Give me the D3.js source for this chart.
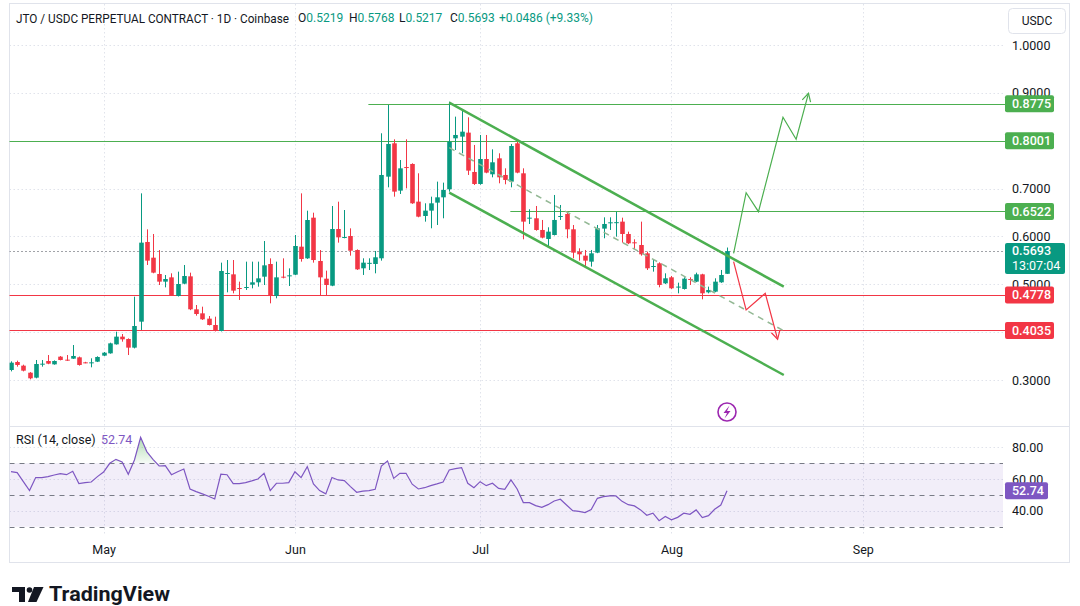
<!DOCTYPE html>
<html>
<head>
<meta charset="utf-8">
<script src="https://cdn.jsdelivr.net/npm/d3@7"></script>
<style>
  body { margin: 0; background: #fff; }
  svg { display: block; font-family: Roboto, "Noto Sans", sans-serif; }
</style>
</head>
<body>
<svg id="chart" width="1080" height="606"></svg>
<script>
// daily candles, 16 Apr -> 10 Aug
const firstDay = [2025, 3, 16];

const opens = [
  .3209, .3376, .3300, .3153, .3049, .3334, .3397, .3327, .3488, .3425,
  .3446, .3474, .3369, .3362, .3383, .3509, .3557, .3745, .3906, .3857,
  .3676, .4219, .5884, .5556, .5215, .5055, .5145, .4755, .5013, .5166,
  .4477, .4393, .4282, .4149, .4024, .5229, .5208, .4922, .4929, .4992,
  .5041, .5159, .5424, .4755, .5159, .5180, .5201, .5786, .5542, .6392,
  .5487, .5117, .4971, .6155, .5975, .6009, .5716, .5334, .5440, .5424,
  .5543, .7249, .7946, .6957, .7450, .7514, .6727, .6427, .6539, .6706,
  .6817, .6985, .8050, .8085, .8169, .7347, .7096, .7618, .7298, .7632,
  .7284, .7145, .7946, .7319, .6385, .6379, .6135, .5947, .6030, .6420,
  .6469, .6149, .5682, .5598, .5473, .5661, .6163, .6288, .6290, .6309,
  .6051, .5877, .5821, .5647, .5375, .5438, .5020, .5146, .4945, .4902,
  .5111, .5055, .5208, .4832, .4846, .5041, .5219
];
const highs = [
  .3390, .3404, .3320, .3165, .3418, .3418, .3522, .3410, .3500, .3522,
  .3731, .3490, .3380, .3453, .3495, .3585, .3780, .4010, .3961, .3870,
  .4741, .6900, .6148, .6051, .5716, .5194, .5229, .5264, .5403, .5243,
  .4567, .4532, .4337, .4323, .5452, .5507, .5507, .5055, .5473, .5473,
  .5473, .5904, .5542, .5473, .5542, .5333, .6030, .6900, .6538, .6496,
  .5716, .5285, .6636, .6726, .6552, .6169, .5730, .5543, .5543, .5696,
  .8155, .8747, .8029, .7597, .8029, .7528, .7319, .6692, .6831, .7145,
  .7124, .8816, .8503, .8642, .8489, .7911, .8120, .8120, .7820, .7737,
  .7423, .7932, .8015, .7423, .6567, .6636, .6344, .6191, .6866, .6657,
  .6518, .6239, .5752, .5717, .5717, .6239, .6399, .6399, .6518, .6392,
  .6100, .5940, .6309, .5682, .5522, .5459, .5229, .5174, .5034, .5146,
  .5146, .5243, .5220, .4951, .5125, .5299, .5768
];
const lows = [
  .3180, .3279, .3180, .3014, .3035, .3279, .3330, .3320, .3410, .3400,
  .3440, .3300, .3350, .3265, .3375, .3500, .3550, .3740, .3801, .3522,
  .3660, .4045, .5403, .5230, .4985, .4936, .4760, .4745, .5000, .4460,
  .4344, .4255, .4140, .4015, .4015, .4832, .4811, .4672, .4881, .4915,
  .4950, .4985, .4602, .4707, .5124, .4964, .5190, .5473, .5530, .5452,
  .4755, .4755, .4960, .5870, .5960, .5598, .5300, .5195, .5298, .5229,
  .5494, .7026, .6831, .6887, .7005, .6680, .6400, .6309, .6170, .6239,
  .6379, .6936, .7806, .7737, .7284, .7075, .7080, .7320, .7235, .7110,
  .7089, .7026, .7320, .5940, .6260, .6120, .5960, .5800, .6020, .6344,
  .5961, .5543, .5494, .5383, .5369, .5650, .5961, .6135, .5995, .5870,
  .5840, .5731, .5598, .5299, .5264, .4937, .5006, .4900, .4811, .4890,
  .4986, .5045, .4686, .4811, .4835, .5030, .5217
];
const closes = [
  .3362, .3314, .3195, .3035, .3334, .3341, .3341, .3397, .3418, .3411,
  .3502, .3314, .3362, .3369, .3481, .3571, .3766, .3906, .3850, .3676,
  .4128, .5870, .5494, .5243, .5055, .5110, .4776, .5006, .5173, .4477,
  .4379, .4268, .4149, .4024, .5278, .5236, .4867, .4905, .4943, .5041,
  .5124, .5396, .4755, .5145, .5145, .5187, .5800, .5528, .6343, .5507,
  .5145, .4985, .6155, .5981, .5988, .5702, .5312, .5452, .5448, .5564,
  .7284, .7932, .6936, .7423, .7437, .6692, .6413, .6539, .6692, .6817,
  .6971, .7980, .8120, .8189, .7375, .7096, .7618, .7333, .7549, .7235,
  .7180, .7890, .7333, .6309, .6392, .6135, .5975, .6100, .6344, .6427,
  .6149, .5661, .5626, .5494, .5647, .6170, .6260, .6295, .6298, .6051,
  .5856, .5863, .5626, .5334, .5382, .4986, .5125, .4916, .4952, .5118,
  .5100, .5208, .4811, .4881, .5055, .5194, .5693
];
const rsi = [
  64.7, 64.1, 58.4, 52.8, 61.0, 61.0, 61.6, 62.6, 63.5, 62.8,
  65.0, 57.2, 57.8, 58.2, 61.6, 64.5, 70.0, 72.5, 70.8, 63.1,
  72.1, 86.4, 77.4, 72.5, 68.3, 68.5, 62.8, 64.7, 66.4, 53.8,
  52.1, 50.7, 49.2, 47.5, 63.1, 62.8, 57.2, 57.2, 57.8, 58.9,
  60.1, 63.7, 52.8, 57.4, 57.4, 57.8, 64.7, 61.0, 67.9, 57.0,
  52.8, 50.7, 61.0, 59.5, 59.1, 55.3, 51.7, 52.5, 52.8, 53.6,
  68.3, 71.5, 60.5, 63.7, 63.7, 56.8, 53.8, 54.6, 55.9, 57.0,
  58.2, 65.8, 66.6, 67.3, 57.4, 54.6, 58.4, 55.9, 57.4, 54.2,
  53.6, 59.5, 53.8, 45.2, 45.2, 43.3, 42.2, 43.9, 46.2, 47.3,
  43.7, 40.1, 39.7, 38.9, 40.8, 47.9, 49.0, 49.4, 49.4, 46.0,
  43.9, 43.1, 40.6, 37.2, 38.5, 33.8, 36.4, 34.3, 35.9, 38.5,
  37.8, 40.6, 35.7, 37.0, 41.0, 43.7, 52.74
];

const priceTicks = [1.0, 0.9, 0.8, 0.7, 0.6, 0.5, 0.4, 0.3];
const rsiTicks = [80, 60, 40];
const rsiBands = [70, 50, 30];
const monthTicks = ['2025-05-01', '2025-06-01', '2025-07-01', '2025-08-01', '2025-09-01'];

// horizontal levels: price, first bar index, kind
const levelPrices = [0.8775, 0.8001, 0.6522, 0.4778, 0.4035];
const levelFrom = [57.9, -2, 80.9, -2, -2];
const levelKind = ['up', 'up', 'up', 'down', 'down'];

// drawings as [bar index, price]
const channelUpper = [[71, 0.8794], [125.2, 0.4950]];
const channelLower = [[71, 0.6914], [125.2, 0.3105]];
const channelMid = [[71, 0.7854], [125.2, 0.4028]];
const bullPath = [[117.07, 0.5648], [119.1, 0.6914], [121.1, 0.6517], [125.07, 0.8489], [127.2, 0.8030], [129.2, 0.8991]];
const bearPath = [[117.07, 0.5472], [119.1, 0.4463], [122.2, 0.4812], [124.2, 0.3851]];

const lastPrice = 0.5693;
const dayChange = 0.0486;
const dayChangePct = 9.33;
const countdown = '13:07:04';

const upColor = '#089981', downColor = '#f23645';
const lvlGreen = '#4caf50', lvlRed = '#f23645';
const rsiColor = '#7e57c2';
const gridColor = '#e0e3eb';
const textColor = '#131722';

const svg = d3.select('#chart');
const day0 = Date.UTC(firstDay[0], firstDay[1], firstDay[2]);
const dateAt = (i) => new Date(day0 + i * 864e5);
const n = closes.length;

const x = d3.scaleUtc().domain([dateAt(0), dateAt(n - 1)]).range([11, 727]);
const xi = (i) => x(dateAt(i));
const y = d3.scaleLinear().domain([0.3, 1.0]).range([380, 45]);
const yr = d3.scaleLinear().domain([30, 70]).range([526.7, 463.3]);

const plotL = 9.5, plotR = 1003;
const mainTop = 4, mainBottom = 426;
const rsiTop = 427, rsiBottom = 531;

const defs = svg.append('defs');
defs.append('clipPath').attr('id', 'clipMain')
  .append('rect').attr('x', plotL).attr('y', mainTop).attr('width', plotR - plotL).attr('height', mainBottom - mainTop);
defs.append('clipPath').attr('id', 'clipRsi')
  .append('rect').attr('x', plotL).attr('y', rsiTop).attr('width', plotR - plotL).attr('height', rsiBottom - rsiTop);
defs.append('clipPath').attr('id', 'clipOb')
  .append('rect').attr('x', plotL).attr('y', rsiTop).attr('width', plotR - plotL).attr('height', yr(70) - rsiTop);
const grad = defs.append('linearGradient').attr('id', 'obGrad')
  .attr('gradientUnits', 'userSpaceOnUse')
  .attr('x1', 0).attr('x2', 0).attr('y1', yr(87)).attr('y2', yr(70));
grad.append('stop').attr('offset', 0).attr('stop-color', '#4caf50').attr('stop-opacity', 0.45);
grad.append('stop').attr('offset', 1).attr('stop-color', '#4caf50').attr('stop-opacity', 0.05);

// frame --------------------------------------------------------
svg.append('rect').attr('x', 9.5).attr('y', 3.5).attr('width', 1060).attr('height', 559)
  .attr('fill', 'none').attr('stroke', gridColor);
svg.append('line').attr('x1', 9.5).attr('x2', 1069.5).attr('y1', 426.5).attr('y2', 426.5)
  .attr('stroke', gridColor);

// grid ---------------------------------------------------------
const grid = svg.append('g').attr('stroke', gridColor).attr('stroke-dasharray', '1.5,2.5');
grid.selectAll('.hg').data(priceTicks).join('line')
  .attr('x1', plotL).attr('x2', plotR).attr('y1', (d) => Math.round(y(d)) + 0.5).attr('y2', (d) => Math.round(y(d)) + 0.5);
grid.selectAll('.rg').data(rsiTicks).join('line')
  .attr('x1', plotL).attr('x2', plotR).attr('y1', (d) => Math.round(yr(d)) + 0.5).attr('y2', (d) => Math.round(yr(d)) + 0.5);
grid.selectAll('.vg').data(monthTicks).join('line')
  .attr('x1', (d) => Math.round(x(new Date(d))) + 0.5).attr('x2', (d) => Math.round(x(new Date(d))) + 0.5)
  .attr('y1', mainTop).attr('y2', rsiBottom + 4);

// main pane ----------------------------------------------------
const main = svg.append('g').attr('clip-path', 'url(#clipMain)');

// levels, running into the price scale up to their tag
levelPrices.forEach((p, k) => {
  main.append('line')
    .attr('x1', xi(levelFrom[k])).attr('x2', plotR)
    .attr('y1', Math.round(y(p)) + 0.5).attr('y2', Math.round(y(p)) + 0.5)
    .attr('stroke', levelKind[k] === 'up' ? lvlGreen : lvlRed);
  svg.append('line')
    .attr('x1', plotR).attr('x2', 1006)
    .attr('y1', Math.round(y(p)) + 0.5).attr('y2', Math.round(y(p)) + 0.5)
    .attr('stroke', levelKind[k] === 'up' ? lvlGreen : lvlRed);
});

// last price line
main.append('line')
  .attr('x1', plotL).attr('x2', plotR)
  .attr('y1', Math.round(y(lastPrice)) + 0.5).attr('y2', Math.round(y(lastPrice)) + 0.5)
  .attr('stroke', '#434651').attr('stroke-dasharray', '1,3');

// candles
const bars = d3.range(n);
const candle = main.append('g').selectAll('g').data(bars).join('g')
  .attr('fill', (i) => closes[i] >= opens[i] ? upColor : downColor)
  .attr('stroke', (i) => closes[i] >= opens[i] ? upColor : downColor);
candle.append('line')
  .attr('x1', (i) => Math.round(xi(i)) + 0.5).attr('x2', (i) => Math.round(xi(i)) + 0.5)
  .attr('y1', (i) => y(highs[i])).attr('y2', (i) => y(lows[i]));
candle.append('rect')
  .attr('stroke', 'none')
  .attr('x', (i) => Math.round(xi(i)) - 1.8)
  .attr('width', 4.6)
  .attr('y', (i) => y(Math.max(opens[i], closes[i])))
  .attr('height', (i) => Math.max(1, Math.abs(y(opens[i]) - y(closes[i]))));

// channel
const pline = d3.line().x((d) => xi(d[0])).y((d) => y(d[1]));
main.append('path').attr('d', pline(channelUpper)).attr('fill', 'none')
  .attr('stroke', lvlGreen).attr('stroke-width', 2.5);
main.append('path').attr('d', pline(channelLower)).attr('fill', 'none')
  .attr('stroke', lvlGreen).attr('stroke-width', 2.5);
main.append('path').attr('d', pline(channelMid)).attr('fill', 'none')
  .attr('stroke', '#93b894').attr('stroke-width', 1.5).attr('stroke-dasharray', '6,5');

// scenario arrows
function arrow(pts, color) {
  main.append('path').attr('d', pline(pts)).attr('fill', 'none')
    .attr('stroke', color).attr('stroke-width', 1.2);
  const a = pts[pts.length - 2], b = pts[pts.length - 1];
  const bx = xi(b[0]), by = y(b[1]);
  const ang = Math.atan2(by - y(a[1]), bx - xi(a[0]));
  const len = 9, spread = 0.5;
  const head = [
    [bx - len * Math.cos(ang - spread), by - len * Math.sin(ang - spread)],
    [bx, by],
    [bx - len * Math.cos(ang + spread), by - len * Math.sin(ang + spread)]
  ];
  main.append('path').attr('d', d3.line()(head)).attr('fill', 'none')
    .attr('stroke', color).attr('stroke-width', 1.2);
}
arrow(bullPath, lvlGreen);
arrow(bearPath, lvlRed);

// event marker
const ev = svg.append('g').attr('transform', `translate(${xi(n - 1)},412)`);
ev.append('circle').attr('r', 9).attr('fill', '#fff').attr('stroke', '#9c27b0').attr('stroke-width', 1.6);
ev.append('path').attr('d', 'M2.5,-6.5 L-3.5,1 L0,1 L-2.5,6.5 L3.5,-1 L0,-1 Z').attr('fill', '#9c27b0');

// rsi pane -----------------------------------------------------
const rp = svg.append('g').attr('clip-path', 'url(#clipRsi)');
rp.append('rect').attr('x', plotL).attr('width', plotR - plotL)
  .attr('y', yr(70)).attr('height', yr(30) - yr(70)).attr('fill', 'rgba(126,87,194,0.1)');
rp.selectAll('.band').data(rsiBands).join('line')
  .attr('x1', plotL).attr('x2', plotR)
  .attr('y1', (d) => Math.round(yr(d)) + 0.5).attr('y2', (d) => Math.round(yr(d)) + 0.5)
  .attr('stroke', '#787b86').attr('stroke-dasharray', '5,5');
rp.append('path')
  .attr('clip-path', 'url(#clipOb)')
  .attr('d', d3.area().x((d, i) => xi(i)).y0(yr(70)).y1((d) => yr(d))(rsi))
  .attr('fill', 'url(#obGrad)');
rp.append('path')
  .attr('d', d3.line().x((d, i) => xi(i)).y((d) => yr(d))(rsi))
  .attr('fill', 'none').attr('stroke', rsiColor).attr('stroke-width', 1.2);

// axes ---------------------------------------------------------
// price labels fully hidden behind a tag are left out
const shownTicks = priceTicks.filter((t) => levelPrices.every((p) => Math.abs(y(t) - y(p)) > 8));
const yAxis = svg.append('g').attr('transform', 'translate(1012,0)')
  .call(d3.axisRight(y).tickValues(shownTicks).tickFormat(d3.format('.4f')).tickSize(0).tickPadding(0));
const rAxis = svg.append('g').attr('transform', 'translate(1012,0)')
  .call(d3.axisRight(yr).tickValues(rsiTicks).tickFormat(d3.format('.2f')).tickSize(0).tickPadding(0));
const xAxis = svg.append('g').attr('transform', 'translate(0,545.5)')
  .call(d3.axisBottom(x).tickValues(monthTicks.map((d) => new Date(d))).tickFormat(d3.utcFormat('%b')).tickSize(0).tickPadding(0));
[yAxis, rAxis, xAxis].forEach((g) => {
  g.select('.domain').remove();
  g.selectAll('text').attr('fill', textColor).attr('font-size', 12.5).attr('font-family', 'Roboto, sans-serif');
});

// price tags
levelPrices.forEach((p, k) => {
  const c = levelKind[k] === 'up' ? lvlGreen : lvlRed;
  const tag = svg.append('g').attr('transform', `translate(1005,${y(p)})`);
  tag.append('rect').attr('x', 0).attr('y', -8.5).attr('width', 49).attr('height', 17).attr('rx', 2).attr('fill', c);
  tag.append('text').attr('x', 7).attr('dy', '0.35em').attr('fill', '#fff')
    .attr('font-size', 12.5).attr('font-weight', 500).text(d3.format('.4f')(p));
});
const lt = svg.append('g').attr('transform', `translate(1005,${y(lastPrice)})`);
lt.append('rect').attr('x', 0).attr('y', -8).attr('width', 60).attr('height', 31).attr('rx', 2).attr('fill', upColor);
lt.append('text').attr('x', 7).attr('dy', '0.35em').attr('fill', '#fff')
  .attr('font-size', 12.5).attr('font-weight', 500).text(d3.format('.4f')(lastPrice));
lt.append('text').attr('x', 7).attr('y', 15).attr('dy', '0.35em').attr('fill', '#fff')
  .attr('font-size', 12.5).text(countdown);

const rt = svg.append('g').attr('transform', `translate(1005,${yr(rsi[n - 1])})`);
rt.append('rect').attr('x', 0).attr('y', -8.5).attr('width', 43).attr('height', 17).attr('rx', 2).attr('fill', rsiColor);
rt.append('text').attr('x', 7).attr('dy', '0.35em').attr('fill', '#fff')
  .attr('font-size', 12.5).attr('font-weight', 500).text(d3.format('.2f')(rsi[n - 1]));

// currency button
svg.append('rect').attr('x', 1008.5).attr('y', 8.5).attr('width', 57).attr('height', 25).attr('rx', 4)
  .attr('fill', '#fff').attr('stroke', gridColor);
svg.append('text').attr('x', 1037).attr('y', 21).attr('dy', '0.35em').attr('text-anchor', 'middle')
  .attr('fill', textColor).attr('font-size', 12).text('USDC');

// legends ------------------------------------------------------
const hdr = svg.append('g').attr('font-size', 12);
hdr.append('text').attr('x', 16).attr('y', 18).attr('dy', '0.35em').attr('fill', textColor)
  .attr('font-size', 13).attr('textLength', 273).attr('lengthAdjust', 'spacingAndGlyphs')
  .text('JTO / USDC PERPETUAL CONTRACT · 1D · Coinbase');
const ohlc = [['O', opens[n - 1], 298], ['H', highs[n - 1], 349], ['L', lows[n - 1], 399], ['C', closes[n - 1], 450]];
ohlc.forEach(([k, v, px]) => {
  const t = hdr.append('text').attr('x', px).attr('y', 18).attr('dy', '0.35em');
  t.append('tspan').attr('fill', textColor).text(k);
  t.append('tspan').attr('fill', upColor).text(d3.format('.4f')(v));
});
hdr.append('text').attr('x', 499).attr('y', 18).attr('dy', '0.35em').attr('fill', upColor)
  .text(`+${d3.format('.4f')(dayChange)} (+${dayChangePct}%)`);

const rl = svg.append('g').attr('font-size', 12.5);
rl.append('text').attr('x', 16).attr('y', 440).attr('dy', '0.35em').attr('fill', textColor).text('RSI (14, close)');
rl.append('text').attr('x', 101).attr('y', 440).attr('dy', '0.35em').attr('fill', rsiColor).text(d3.format('.2f')(rsi[n - 1]));

// logo ---------------------------------------------------------
const logo = svg.append('g').attr('fill', textColor);
logo.append('path').attr('d', 'M12,587 H25 V602 H19 V592 H12 Z');
logo.append('circle').attr('cx', 29.5).attr('cy', 590).attr('r', 2.8);
logo.append('path').attr('d', 'M34,587 H43.5 L36.5,602 H28 Z');
logo.append('text').attr('x', 49).attr('y', 601).attr('font-size', 21).attr('font-weight', 700)
  .attr('textLength', 121).attr('lengthAdjust', 'spacingAndGlyphs').text('TradingView');
</script>
</body>
</html>
